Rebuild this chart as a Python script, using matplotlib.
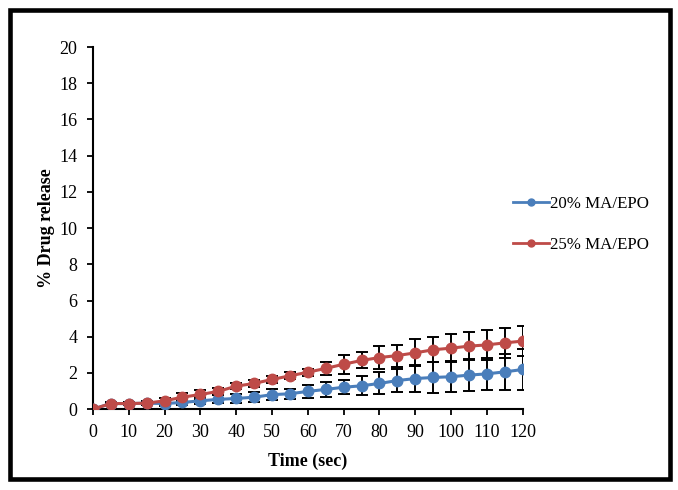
import numpy as np
import matplotlib.pyplot as plt
from matplotlib.patches import Rectangle
from matplotlib.lines import Line2D

# time points (sec)
time = [0, 5, 10, 15, 20, 25, 30, 35, 40, 45, 50, 55, 60, 65, 70, 75, 80, 85, 90, 95, 100, 105, 110, 115, 120]

# % drug release, 20% MA/EPO
ma20 = [0, 0.31, 0.31, 0.33, 0.31, 0.37, 0.46, 0.54, 0.59, 0.66, 0.80, 0.85, 0.98, 1.09, 1.21,
        1.29, 1.42, 1.58, 1.69, 1.75, 1.79, 1.88, 1.95, 2.06, 2.19]
ma20_err = [0, 0.05, 0.05, 0.08, 0.12, 0.15, 0.2, 0.22, 0.25, 0.27, 0.3, 0.29, 0.35, 0.4, 0.39,
            0.53, 0.61, 0.64, 0.77, 0.85, 0.87, 0.9, 0.87, 0.99, 1.14]

# % drug release, 25% MA/EPO
ma25 = [0, 0.31, 0.31, 0.33, 0.46, 0.66, 0.81, 0.98, 1.27, 1.42, 1.64, 1.84, 2.04, 2.25, 2.48,
        2.69, 2.85, 2.96, 3.11, 3.28, 3.37, 3.48, 3.55, 3.66, 3.76]
ma25_err = [0, 0.08, 0.08, 0.1, 0.18, 0.24, 0.26, 0.2, 0.15, 0.18, 0.2, 0.2, 0.2, 0.35, 0.52,
            0.44, 0.63, 0.61, 0.74, 0.70, 0.79, 0.77, 0.81, 0.81, 0.83]

labels = ['20% MA/EPO', '25% MA/EPO']
blue = '#4A7EBB'
red = '#BE4B48'
font = 'Liberation Serif'

fig = plt.figure(figsize=(6.78, 4.90), dpi=100)
ax = fig.add_axes([0.137, 0.165, 0.634, 0.739])

handles = []
for y, err, c, lab in [(ma20, ma20_err, blue, labels[0]), (ma25, ma25_err, red, labels[1])]:
    ax.errorbar(time, y, yerr=err, fmt='none', ecolor='black', elinewidth=1.4,
                capsize=4, capthick=1.4, zorder=2)
    ax.plot(time, y, color=c, lw=2.2, marker='o', markersize=7.5, zorder=3)
    handles.append(Line2D([], [], color=c, lw=2, marker='o', markersize=5, label=lab))

ax.set_xlim(0, 120)
ax.set_ylim(0, 20)
ax.set_xticks(np.arange(0, 121, 10))
ax.set_yticks(np.arange(0, 21, 2))
ax.spines['top'].set_visible(False)
ax.spines['right'].set_visible(False)
for s in ['left', 'bottom']:
    ax.spines[s].set_linewidth(1.5)
ax.tick_params(direction='out', length=4, width=1.3, labelsize=13, pad=7)
for t in ax.get_xticklabels() + ax.get_yticklabels():
    t.set_fontfamily(font)
ax.set_xlabel('Time (sec)', fontsize=13, fontweight='bold', fontfamily=font, labelpad=8)
ax.set_ylabel('% Drug release', fontsize=13, fontweight='bold', fontfamily=font, labelpad=3)

fig.legend(handles=handles, loc='center left', bbox_to_anchor=(0.757, 0.542), frameon=False,
           borderpad=0, borderaxespad=0, handlelength=2.1, handletextpad=0.05,
           labelspacing=1.45, prop={'family': font, 'size': 12.2})

# black frame around the chart
fig.patches.append(Rectangle((0.0147, 0.0224), 0.973, 0.957, transform=fig.transFigure,
                             fill=False, edgecolor='black', linewidth=3.3))

fig.savefig('out.png', dpi=100, facecolor='white')
